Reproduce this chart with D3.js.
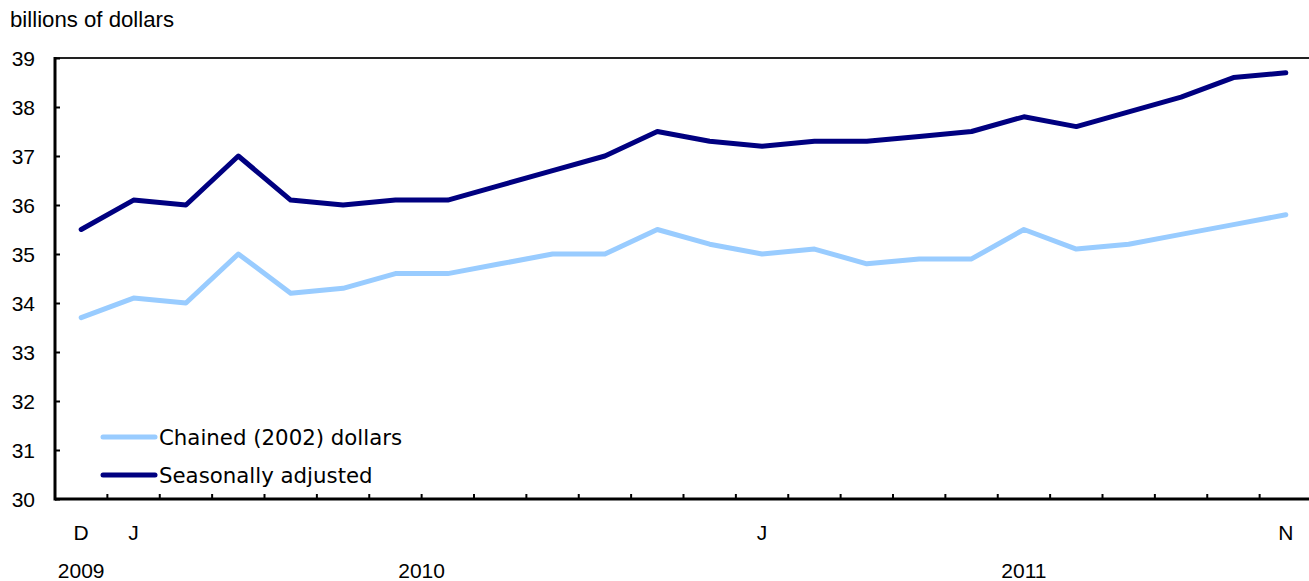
<!DOCTYPE html>
<html>
<head>
<meta charset="utf-8">
<script src="https://cdn.jsdelivr.net/npm/d3@7"></script>
<style>
body{margin:0;background:#fff;}
svg{display:block;}
</style>
</head>
<body>
<svg id="chart" width="1309" height="581"></svg>
<script>
const months = ["2009-12","2010-01","2010-02","2010-03","2010-04","2010-05","2010-06","2010-07","2010-08","2010-09","2010-10","2010-11","2010-12","2011-01","2011-02","2011-03","2011-04","2011-05","2011-06","2011-07","2011-08","2011-09","2011-10","2011-11"];
const monthLabels = ["D","J","","","","","","","","","","","","J","","","","","","","","","","N"];
const seasonallyAdjusted = [35.5,36.1,36.0,37.0,36.1,36.0,36.1,36.1,36.4,36.7,37.0,37.5,37.3,37.2,37.3,37.3,37.4,37.5,37.8,37.6,37.9,38.2,38.6,38.7];
const chained = [33.7,34.1,34.0,35.0,34.2,34.3,34.6,34.6,34.8,35.0,35.0,35.5,35.2,35.0,35.1,34.8,34.9,34.9,35.5,35.1,35.2,35.4,35.6,35.8];
const yTicks = [30,31,32,33,34,35,36,37,38,39];
const years = [{label:"2009", from:"2009-12", to:"2009-12"},{label:"2010", from:"2010-01", to:"2010-12"},{label:"2011", from:"2011-01", to:"2011-11"}];
const seriesNames = ["Chained (2002) dollars","Seasonally adjusted"];
const seriesColors = ["#99ccff","#000080"];

const svg = d3.select("#chart");
const mLeft = 55, mTop = 58, mBottom = 499, mRight = 1312;
const x = d3.scaleBand().domain(months).range([mLeft, mRight]).paddingInner(0).paddingOuter(0);
const y = d3.scaleLinear().domain([30,39]).range([mBottom, mTop]);
const cx = m => x(m) + x.bandwidth()/2;

const numFont = "'Liberation Sans', Arial, sans-serif";
const txtFont = "'DejaVu Sans', Verdana, sans-serif";

// title
svg.append("text").attr("x", 10).attr("y", 27).attr("font-family", numFont).attr("font-size", 22.2)
  .attr("fill", "#000").text("billions of dollars");

// top border
svg.append("line").attr("x1", mLeft).attr("x2", 1309).attr("y1", mTop).attr("y2", mTop)
  .attr("stroke", "#222").attr("stroke-width", 2);

// y axis
const yAxis = d3.axisRight(y).tickValues(yTicks).tickSize(5).tickFormat("");
const gy = svg.append("g").attr("transform", `translate(${mLeft},0)`).call(yAxis);
gy.select(".domain").remove();
gy.selectAll(".tick line").attr("stroke", "#000").attr("stroke-width", 2);
svg.append("line").attr("x1", mLeft).attr("x2", mLeft).attr("y1", mTop - 1).attr("y2", mBottom + 1.5)
  .attr("stroke", "#000").attr("stroke-width", 3);
svg.append("g").selectAll("text").data(yTicks).join("text")
  .attr("x", 35).attr("y", d => y(d)).attr("dy", "0.36em").attr("text-anchor", "end")
  .attr("font-family", numFont).attr("font-size", 21).attr("fill", "#000").text(d => d);

// x axis: ticks at category boundaries
const boundaries = months.slice(1);
svg.append("g").selectAll("line").data(boundaries).join("line")
  .attr("x1", d => x(d)).attr("x2", d => x(d)).attr("y1", mBottom).attr("y2", mBottom - 5)
  .attr("stroke", "#000").attr("stroke-width", 2);
svg.append("line").attr("x1", mLeft).attr("x2", 1309).attr("y1", mBottom).attr("y2", mBottom)
  .attr("stroke", "#000").attr("stroke-width", 3);

svg.append("g").selectAll("text").data(months.filter((m,i) => monthLabels[i])).join("text")
  .attr("x", d => cx(d)).attr("y", 540).attr("text-anchor", "middle")
  .attr("font-family", numFont).attr("font-size", 21).attr("fill", "#000")
  .text(d => monthLabels[months.indexOf(d)]);
svg.append("g").selectAll("text").data(years).join("text")
  .attr("x", d => (cx(d.from) + cx(d.to)) / 2).attr("y", 578).attr("text-anchor", "middle")
  .attr("font-family", numFont).attr("font-size", 21).attr("fill", "#000").text(d => d.label);

// lines
const line = d3.line().x((d,i) => cx(months[i])).y(d => y(d));
[chained, seasonallyAdjusted].forEach((s, k) => {
  svg.append("path").datum(s).attr("d", line).attr("fill", "none")
    .attr("stroke", seriesColors[k]).attr("stroke-width", 5)
    .attr("stroke-linejoin", "round").attr("stroke-linecap", "round");
});

// legend
const legY = [437, 475];
seriesNames.forEach((n, k) => {
  svg.append("line").attr("x1", 103).attr("x2", 155).attr("y1", legY[k]).attr("y2", legY[k])
    .attr("stroke", seriesColors[k]).attr("stroke-width", 5).attr("stroke-linecap", "round");
  svg.append("text").attr("x", 159).attr("y", legY[k]).attr("dy", "0.36em")
    .attr("font-family", txtFont).attr("font-size", 21.3).attr("fill", "#000").text(n);
});
</script>
</body>
</html>
